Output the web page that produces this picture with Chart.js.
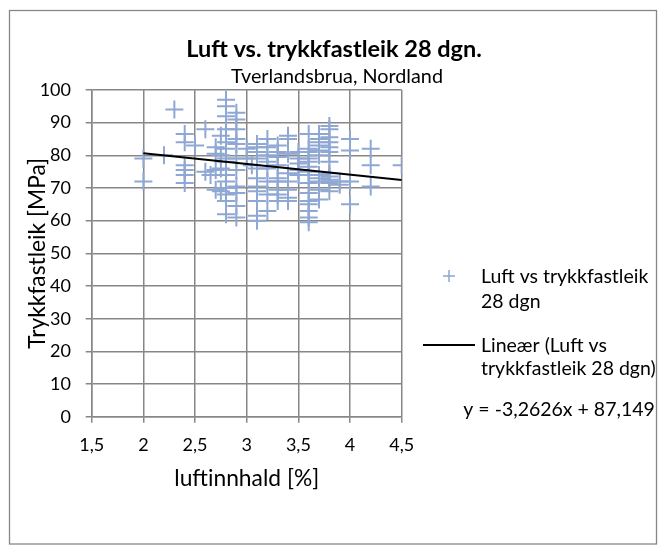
<!DOCTYPE html>
<html>
<head>
<meta charset="utf-8">
<title>Luft vs. trykkfastleik 28 dgn.</title>
<script src="https://cdn.jsdelivr.net/npm/chart.js@4/dist/chart.umd.min.js"></script>
<style>
  html, body { margin: 0; padding: 0; background: #fff; }
  #wrap { width: 663px; height: 550px; }
</style>
</head>
<body>
<div id="wrap"><canvas id="chart" width="663" height="550"></canvas></div>
<script>
const chartTitle = 'Luft vs. trykkfastleik 28 dgn.';
const chartSubtitle = 'Tverlandsbrua, Nordland';
const xAxisTitle = 'luftinnhald [%]';
const yAxisTitle = 'Trykkfastleik [MPa]';

// luftinnhald [%] per sample, one line per air content group
const airContent = [
    2.0, 2.0,
    2.2,
    2.3,
    2.4, 2.4, 2.4, 2.4, 2.4, 2.4,
    2.5,
    2.6, 2.6, 2.65,
    2.7, 2.7, 2.7, 2.7,
    2.8, 2.8, 2.8, 2.8, 2.75, 2.8, 2.8, 2.75, 2.8, 2.8, 2.75, 2.8, 2.8, 2.8, 2.75, 2.8, 2.8, 2.8,
    2.9, 2.9, 2.9, 2.9, 2.9, 2.9, 2.9, 2.9, 2.9, 2.9, 2.9,
    3.0, 3.0, 3.05,
    3.1, 3.1, 3.1, 3.1, 3.1, 3.1, 3.1, 3.1, 3.1, 3.1, 3.1,
    3.2, 3.2, 3.2, 3.2, 3.2, 3.2, 3.2, 3.2,
    3.3, 3.3, 3.3, 3.3, 3.3, 3.3, 3.3, 3.3, 3.3,
    3.4, 3.4, 3.4, 3.4, 3.4, 3.4, 3.4, 3.4,
    3.5, 3.5, 3.5, 3.5, 3.5,
    3.6, 3.6, 3.6, 3.6, 3.6, 3.6, 3.6, 3.6, 3.6, 3.6, 3.6, 3.6, 3.6, 3.6, 3.6,
    3.7, 3.7, 3.7, 3.7, 3.7, 3.7, 3.7, 3.7, 3.7, 3.7, 3.7,
    3.8, 3.8, 3.8, 3.8, 3.8, 3.8, 3.8, 3.8, 3.8, 3.8, 3.8, 3.8,
    3.9, 3.9,
    4.0, 4.0, 4.0, 4.0,
    4.2, 4.2, 4.2,
    4.5
];

// trykkfastleik [MPa], same order as airContent
const strength = [
    79, 72,
    80,
    94,
    86.5, 84, 77, 75.5, 74, 71.5,
    83,
    88, 75, 74,
    82.5, 80.5, 75.5, 69.5,
    97, 95, 92, 88, 86, 84, 82, 80, 79, 78, 76, 74, 72, 70, 69, 68, 66, 62,
    93, 91, 88, 85, 83.5, 79, 75.5, 70.5, 68.5, 64.5, 61,
    82, 79, 77,
    83.5, 82.5, 81, 79, 76, 73, 70.5, 69, 66, 61.5, 60,
    85, 82.5, 80, 78, 76, 72, 68, 63,
    83, 81, 79.5, 77, 73, 72, 69.5, 68, 66,
    86, 85, 80.5, 74.5, 72, 69.5, 67, 66,
    81, 79, 77.5, 75.5, 74,
    86.5, 82, 81, 79, 78, 76.5, 75, 74, 71.5, 68.5, 66, 65, 63, 61, 59.5,
    86.5, 85, 84, 83, 81.5, 80, 74, 73, 72, 69.5, 66.5,
    89, 88, 85.5, 84, 82.5, 81, 78, 74.5, 73.5, 72.5, 71.5, 69,
    72, 71,
    85, 81.5, 72, 65,
    82, 77, 70.5,
    77
];

// linear trendline as shown in the chart: y = -3,2626x + 87,149
const trendSlope = -3.2626;
const trendIntercept = 87.149;
const trendX = [2.0, 4.5];

const xTickValues = [1.5, 2, 2.5, 3, 3.5, 4, 4.5];
const xTickLabels = ['1,5', '2', '2,5', '3', '3,5', '4', '4,5'];

const scatterLegend = ['Luft vs trykkfastleik', '28 dgn'];
const trendLegend = ['Lineær (Luft vs', 'trykkfastleik 28 dgn)'];
const equationText = 'y = -3,2626x + 87,149';

const MARKER = '#8fa7d3';
const GRID = '#878787';
const TEXT = '#000000';
const FONT = 'Lato';

Chart.defaults.font.family = FONT;
Chart.defaults.color = TEXT;

const points = airContent.map((x, i) => ({ x: x, y: strength[i] }));
const trendPoints = trendX.map(x => ({ x: x, y: trendSlope * x + trendIntercept }));

// frame, titles and the side legend
const chartDecor = {
    id: 'chartDecor',
    beforeDraw(chart) {
        const ctx = chart.ctx;
        ctx.save();
        ctx.fillStyle = '#ffffff';
        ctx.fillRect(0, 0, chart.width, chart.height);
        ctx.strokeStyle = GRID;
        ctx.lineWidth = 1.3;
        ctx.strokeRect(9.5, 10.5, 647, 533.5);
        ctx.restore();
    },
    afterDraw(chart) {
        const ctx = chart.ctx;
        ctx.save();
        ctx.fillStyle = TEXT;
        ctx.textAlign = 'center';
        ctx.textBaseline = 'alphabetic';
        ctx.font = 'bold 23.5px ' + FONT;
        ctx.fillText(chartTitle, 334, 56.7);
        ctx.font = '19.8px ' + FONT;
        ctx.fillText(chartSubtitle, 337, 83.3);

        ctx.textAlign = 'left';
        ctx.font = '19.5px ' + FONT;
        scatterLegend.forEach((t, i) => ctx.fillText(t, 481, 283.3 + i * 25));
        trendLegend.forEach((t, i) => ctx.fillText(t, 481, 351.7 + i * 23.5));
        ctx.fillText(equationText, 463.3, 415.7);

        ctx.strokeStyle = MARKER;
        ctx.lineWidth = 1.5;
        ctx.beginPath();
        ctx.moveTo(443, 276); ctx.lineTo(455, 276);
        ctx.moveTo(449, 270); ctx.lineTo(449, 282);
        ctx.stroke();

        ctx.strokeStyle = '#000000';
        ctx.lineWidth = 2;
        ctx.beginPath();
        ctx.moveTo(423, 345); ctx.lineTo(475, 345);
        ctx.stroke();
        ctx.restore();
    }
};

new Chart(document.getElementById('chart'), {
    type: 'scatter',
    data: {
        datasets: [
            {
                type: 'line',
                label: trendLegend.join(' '),
                data: trendPoints,
                borderColor: '#000000',
                borderWidth: 2,
                pointRadius: 0,
                fill: false,
                order: 0
            },
            {
                label: scatterLegend.join(' '),
                data: points,
                pointStyle: 'cross',
                pointRadius: 9,
                pointHoverRadius: 9,
                borderWidth: 2,
                borderColor: MARKER,
                backgroundColor: MARKER,
                order: 1
            }
        ]
    },
    options: {
        responsive: false,
        animation: false,
        events: [],
        layout: { padding: { left: 0, right: 261.3, top: 90, bottom: 55.3 } },
        plugins: {
            legend: { display: false },
            tooltip: { enabled: false }
        },
        scales: {
            x: {
                type: 'linear',
                min: 1.5,
                max: 4.5,
                afterBuildTicks: scale => { scale.ticks = xTickValues.map(v => ({ value: v })); },
                afterFit: scale => { scale.height = 78; },
                ticks: {
                    padding: 11.2,
                    font: { size: 18 },
                    color: TEXT,
                    callback: (value, index) => xTickLabels[index]
                },
                grid: { color: GRID, lineWidth: 1.5, tickLength: 6 },
                border: { color: GRID, width: 1.5 },
                title: {
                    display: true,
                    text: xAxisTitle,
                    font: { size: 22.8 },
                    color: TEXT,
                    padding: { top: 0, bottom: 2.5 }
                }
            },
            y: {
                min: 0,
                max: 100,
                afterFit: scale => { scale.width = 91.7; },
                ticks: {
                    stepSize: 10,
                    padding: 14.7,
                    font: { size: 18 },
                    color: TEXT
                },
                grid: { color: GRID, lineWidth: 1.5, tickLength: 6 },
                border: { color: GRID, width: 1.5 },
                title: {
                    display: true,
                    text: yAxisTitle,
                    font: { size: 22.8 },
                    color: TEXT,
                    padding: { top: 24.3, bottom: 0 }
                }
            }
        }
    },
    plugins: [chartDecor]
});
</script>
</body>
</html>
